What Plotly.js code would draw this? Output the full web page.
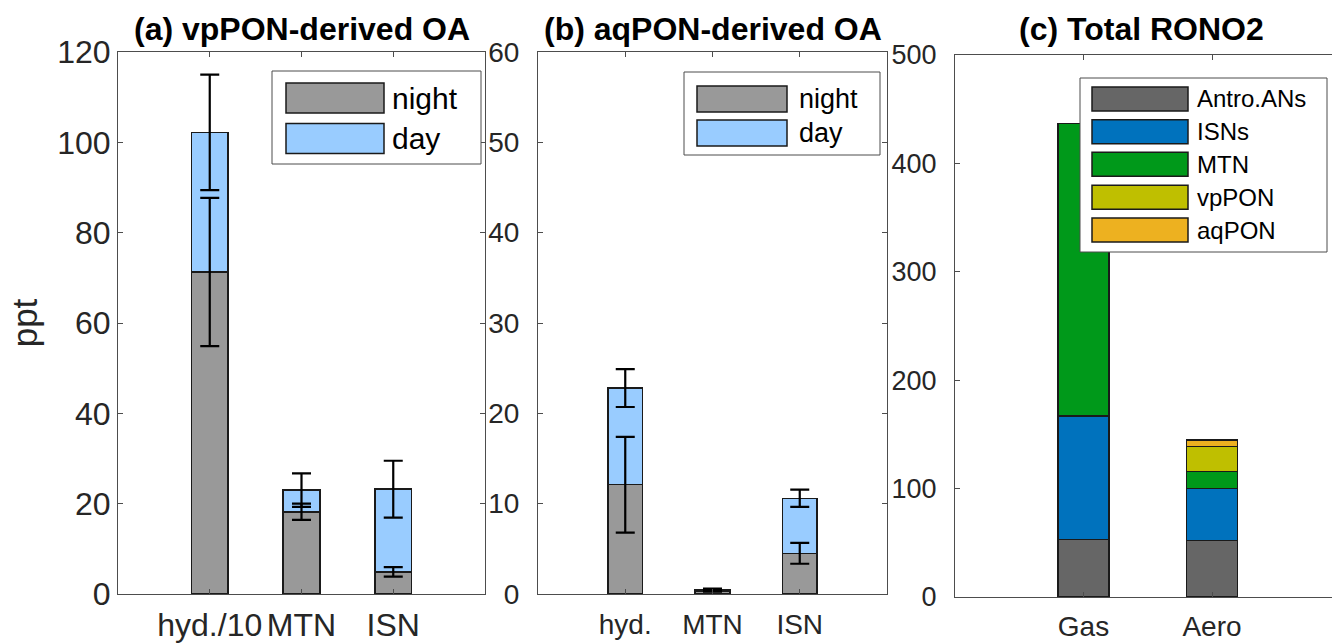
<!DOCTYPE html>
<html>
<head>
<meta charset="utf-8">
<script src="https://cdn.plot.ly/plotly-3.0.1.min.js"></script>
<style>html,body{margin:0;padding:0;background:#fff;}#chart{width:1332px;height:644px;}</style>
</head>
<body>
<div id="chart"></div>
<script>
// ---------- data ----------
const catsA = ['hyd./10', 'MTN', 'ISN'];
const nightA = [71.3, 18.2, 4.9];
const dayA = [30.9, 4.8, 18.3];
const nightErrA = [16.4, 1.8, 1.05];
const dayErrA = [12.8, 3.7, 6.3];

const catsB = ['hyd.', 'MTN', 'ISN'];
const nightB = [12.1, 0.35, 4.5];
const dayB = [10.7, 0.15, 6.1];
const nightErrB = [5.3, 0.1, 1.15];
const dayErrB = [2.1, 0.1, 0.95];

const catsC = ['Gas', 'Aero'];
const antroC = [53, 52];
const isnsC = [114, 48];
const mtnC = [270, 16];
const vpponC = [0, 23];
const aqponC = [0, 6];
const namesC = ['Antro.ANs', 'ISNs', 'MTN', 'vpPON', 'aqPON'];
const namesAB = ['night', 'day'];

const titles = ['(a) vpPON-derived OA', '(b) aqPON-derived OA', '(c) Total RONO2'];
const ticksA = [0, 20, 40, 60, 80, 100, 120];
const ticksB = [0, 10, 20, 30, 40, 50, 60];
const ticksC = [0, 100, 200, 300, 400, 500];

// ---------- style ----------
const W = 1332, H = 644;
const px = x => x / W;
const py = y => 1 - y / H;
const FONT = 'Liberation Sans, Arial, Helvetica, sans-serif';
const TXT = '#262626';
const LINE = '#4d4d4d';
const cNight = '#999999', cDay = '#99CCFF';
const colorsC = ['#666666', '#0072BD', '#00991A', '#BFBF00', '#EDB120'];
const edge = {color: '#1a1a1a', width: 1.5};
const err = (arr) => ({type: 'data', array: arr, visible: true, color: '#000', thickness: 2.2, width: 9.5});

const traces = [];
function stackPanel(cats, night, day, nErr, dErr, xa, ya) {
  traces.push({type: 'bar', x: cats, y: night, name: namesAB[0], xaxis: xa, yaxis: ya, width: 0.4,
    marker: {color: cNight, line: edge}, showlegend: false, hoverinfo: 'y'});
  traces.push({type: 'bar', x: cats, y: day, name: namesAB[1], xaxis: xa, yaxis: ya, width: 0.4,
    marker: {color: cDay, line: edge}, showlegend: false, hoverinfo: 'y'});
  const tops = night.map((v, i) => v + day[i]);
  // error bars drawn above all bars (as in the original)
  traces.push({type: 'scatter', mode: 'markers', x: cats, y: night, xaxis: xa, yaxis: ya,
    marker: {size: 1, opacity: 0}, error_y: err(nErr), showlegend: false, hoverinfo: 'skip'});
  traces.push({type: 'scatter', mode: 'markers', x: cats, y: tops, xaxis: xa, yaxis: ya,
    marker: {size: 1, opacity: 0}, error_y: err(dErr), showlegend: false, hoverinfo: 'skip'});
}
stackPanel(catsA, nightA, dayA, nightErrA, dayErrA, 'x', 'y');
stackPanel(catsB, nightB, dayB, nightErrB, dayErrB, 'x2', 'y2');
[antroC, isnsC, mtnC, vpponC, aqponC].forEach((vals, i) => {
  traces.push({type: 'bar', x: catsC, y: vals, name: namesC[i], xaxis: 'x3', yaxis: 'y3', width: 0.4,
    marker: {color: colorsC[i], line: edge}, showlegend: false, hoverinfo: 'y'});
});

function xax(domain, range, fs, so) {
  return {domain: domain, range: range, type: 'category', showline: true, linecolor: LINE, linewidth: 1,
    mirror: 'ticks', ticks: 'inside', ticklen: 5, tickcolor: LINE, showgrid: false, zeroline: false,
    tickfont: {family: FONT, size: fs, color: TXT}, ticklabelstandoff: so, fixedrange: true};
}
function yax(domain, range, tv, mirror, fs, so) {
  return {domain: domain, range: range, tickvals: tv, showline: true, linecolor: LINE, linewidth: 1,
    mirror: mirror, ticks: 'inside', ticklen: 5, tickcolor: LINE, showgrid: false, zeroline: false,
    tickfont: {family: FONT, size: fs, color: TXT}, ticklabelstandoff: so, fixedrange: true};
}

const domYab = [py(594), py(52)];
const domYc = [py(597), py(55)];

const layout = {
  width: W, height: H,
  margin: {l: 0, r: 0, t: 0, b: 0, pad: 0},
  paper_bgcolor: '#fff', plot_bgcolor: 'rgba(0,0,0,0)',
  barmode: 'stack', showlegend: false,
  font: {family: FONT, color: TXT},
  xaxis: xax([px(118), px(485)], [-1, 3], 32, 3),
  yaxis: Object.assign(yax(domYab, [0, 120], ticksA, 'ticks', 32, 0),
    {title: {text: 'ppt', font: {family: FONT, size: 35, color: TXT}, standoff: 8}}),
  xaxis2: xax([px(538), px(887)], [-1, 3], 28, 5),
  yaxis2: yax(domYab, [0, 60], ticksB, 'ticks', 28, 12),
  xaxis3: xax([px(955), 1], [-1, (1332 - 955) / 128.5 - 1], 28, 4),
  yaxis3: yax(domYc, [0, 500], ticksC, false, 27, 12),
  shapes: [], annotations: []
};
layout.xaxis.anchor = 'y'; layout.yaxis.anchor = 'x';
layout.xaxis2.anchor = 'y2'; layout.yaxis2.anchor = 'x2';
layout.xaxis3.anchor = 'y3'; layout.yaxis3.anchor = 'x3';

// titles
const titleX = [302, 713, 1141];
titles.forEach((t, i) => {
  layout.annotations.push({text: '<b>' + t + '</b>', xref: 'paper', yref: 'paper', x: px(titleX[i]), y: py(29),
    xanchor: 'center', yanchor: 'middle', showarrow: false, font: {family: FONT, size: 32, color: '#000'}});
});

// legends (boxes drawn in pixel layout)
function legend(box, sw, rows, names, colors, textX, fsize) {
  layout.shapes.push({type: 'rect', xref: 'paper', yref: 'paper', x0: px(box[0]), x1: px(box[1]), y0: py(box[2]), y1: py(box[3]),
    line: {color: LINE, width: 1}, fillcolor: '#fff', layer: 'above'});
  rows.forEach((c, i) => {
    layout.shapes.push({type: 'rect', xref: 'paper', yref: 'paper', x0: px(sw[0]), x1: px(sw[1]),
      y0: py(c - sw[2] / 2), y1: py(c + sw[2] / 2), line: {color: '#1a1a1a', width: 1.5}, fillcolor: colors[i], layer: 'above'});
    layout.annotations.push({text: names[i], xref: 'paper', yref: 'paper', x: px(textX), y: py(c), xanchor: 'left', yanchor: 'middle',
      showarrow: false, font: {family: FONT, size: fsize, color: '#000'}});
  });
}
legend([272, 481, 71, 164], [286, 384, 30], [98, 138.5], namesAB, [cNight, cDay], 390, 30);
legend([684, 880, 72, 155], [697, 787, 26], [99, 133], namesAB, [cNight, cDay], 797, 27);
legend([1080, 1327, 78, 252], [1092, 1188, 24], [99, 131.7, 164.3, 197.3, 230], namesC, colorsC, 1195, 24);

Plotly.newPlot('chart', traces, layout, {displayModeBar: false, staticPlot: true});
</script>
</body>
</html>
